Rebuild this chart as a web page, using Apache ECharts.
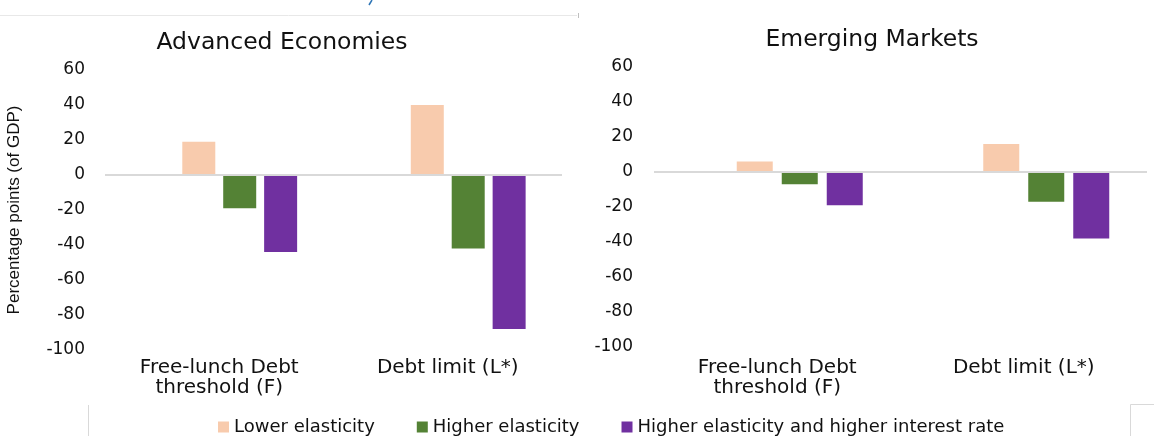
<!DOCTYPE html>
<html>
<head>
<meta charset="utf-8">
<script src="https://cdn.jsdelivr.net/npm/echarts@6/dist/echarts.min.js"></script>
<style>
  html, body { margin: 0; padding: 0; background: #ffffff; }
  #chart { width: 1154px; height: 436px; }
</style>
</head>
<body>
<div id="chart"></div>
<script>
// ---- data ----
const categories = ['Free-lunch Debt\nthreshold (F)', 'Debt limit (L*)'];
const seriesNames = ['Lower elasticity', 'Higher elasticity', 'Higher elasticity and higher interest rate'];
const seriesColors = ['#F8CBAD', '#548235', '#7030A0'];
const panelTitles = ['Advanced Economies', 'Emerging Markets'];
const yAxisTitle = 'Percentage points (of GDP)';
const yMin = -100, yMax = 60, yStep = 20;

// Advanced Economies
const aeLower = [19, 40];
const aeHigher = [-19, -42];
const aeHigherRate = [-44, -88];
// Emerging Markets
const emLower = [6, 16];
const emHigher = [-7, -17];
const emHigherRate = [-19, -38];
// empty first slot in each cluster (as in the original chart)
const emptySlot = [null, null];

// ---- chart ----
const FONT = 'DejaVu Sans';
const TXT = '#111111';
const chart = echarts.init(document.getElementById('chart'), null, { renderer: 'canvas' });

function yAxisFor(gridIndex, margin, withName) {
  return {
    type: 'value', gridIndex: gridIndex,
    min: yMin, max: yMax, interval: yStep,
    axisLine: { show: false }, axisTick: { show: false },
    splitLine: { show: false },
    axisLabel: { color: TXT, fontFamily: FONT, fontSize: 17, margin: margin },
    name: withName ? yAxisTitle : '',
    nameLocation: 'middle', nameRotate: 90, nameGap: 82,
    nameTextStyle: { color: TXT, fontFamily: 'Liberation Sans', fontSize: 17 }
  };
}
function xAxisFor(gridIndex, margin) {
  return {
    type: 'category', gridIndex: gridIndex, data: categories,
    axisLine: { show: false }, axisTick: { show: false },
    axisLabel: { color: TXT, fontFamily: FONT, fontSize: 20, lineHeight: 20, margin: margin, interval: 0 }
  };
}
const zeroLine = {
  silent: true, symbol: 'none',
  label: { show: false },
  lineStyle: { color: '#D9D9D9', width: 2, type: 'solid' },
  data: [{ yAxis: 0 }]
};
function panelSeries(idx, values, barW, gap) {
  const out = [{
    name: '', type: 'bar', xAxisIndex: idx, yAxisIndex: idx,
    data: emptySlot, barWidth: barW, barGap: gap,
    markLine: zeroLine, z: 1
  }];
  values.forEach((v, i) => {
    out.push({
      name: seriesNames[i], type: 'bar', xAxisIndex: idx, yAxisIndex: idx,
      data: v, barWidth: barW, barGap: gap,
      itemStyle: { color: seriesColors[i] }, z: 2
    });
  });
  return out;
}

const option = {
  backgroundColor: '#ffffff',
  animation: false,
  title: [
    { text: panelTitles[0], left: 277, top: 26, textAlign: 'center',
      textStyle: { color: TXT, fontFamily: FONT, fontSize: 23.5, fontWeight: 'normal' } },
    { text: panelTitles[1], left: 867, top: 23, textAlign: 'center',
      textStyle: { color: TXT, fontFamily: FONT, fontSize: 23.5, fontWeight: 'normal' } }
  ],
  legend: {
    data: seriesNames, left: 213, top: 413,
    icon: 'rect', itemWidth: 11, itemHeight: 11, itemGap: 42,
    textStyle: { color: TXT, fontFamily: FONT, fontSize: 18 }
  },
  grid: [
    { left: 105, right: 592, top: 70, bottom: 86 },
    { left: 654, right: 7, top: 67, bottom: 89 }
  ],
  xAxis: [xAxisFor(0, 8), xAxisFor(1, 11)],
  yAxis: [yAxisFor(0, 20, true), yAxisFor(1, 21, false)],
  series: []
    .concat(panelSeries(0, [aeLower, aeHigher, aeHigherRate], 33, '24%'))
    .concat(panelSeries(1, [emLower, emHigher, emHigherRate], 36, '25%')),
  graphic: [
    { type: 'line', silent: true, shape: { x1: 0, y1: 15.5, x2: 577, y2: 15.5 }, style: { stroke: '#E8E8E8', lineWidth: 1 } },
    { type: 'line', silent: true, shape: { x1: 578.5, y1: 13, x2: 578.5, y2: 18 }, style: { stroke: '#BFBFBF', lineWidth: 1 } },
    { type: 'line', silent: true, shape: { x1: 369, y1: 5, x2: 372, y2: 0 }, style: { stroke: '#2E75B6', lineWidth: 1.5 } },
    { type: 'line', silent: true, shape: { x1: 88.5, y1: 405, x2: 88.5, y2: 436 }, style: { stroke: '#D9D9D9', lineWidth: 1 } },
    { type: 'polyline', silent: true, shape: { points: [[1130.5, 436], [1130.5, 404.5], [1154, 404.5]] }, style: { stroke: '#D9D9D9', lineWidth: 1, fill: 'none' } }
  ]
};
chart.setOption(option);
</script>
</body>
</html>
